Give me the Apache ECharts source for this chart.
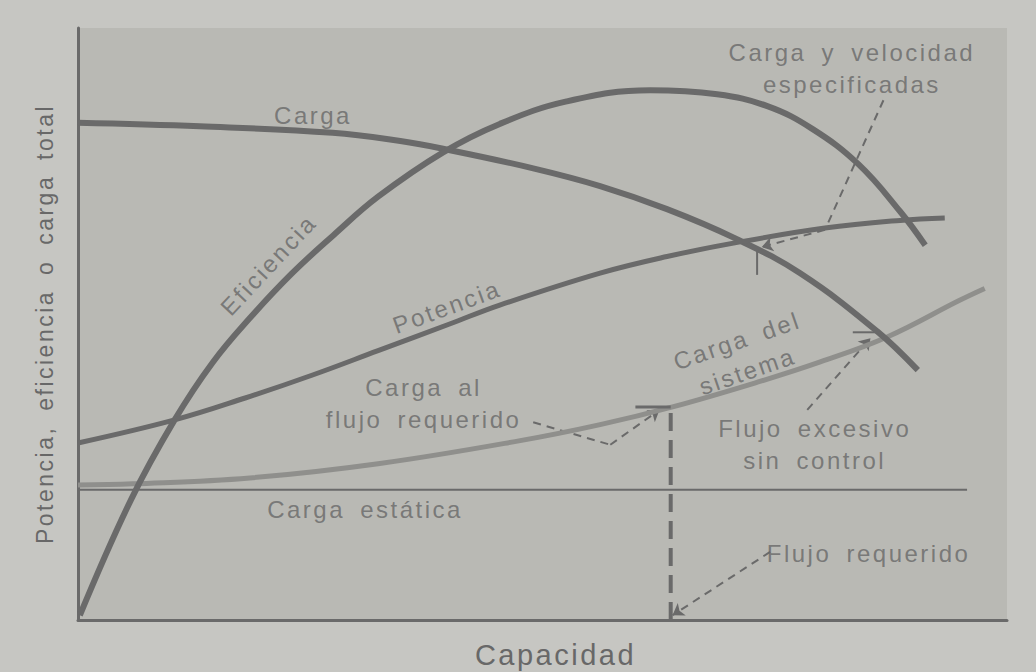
<!DOCTYPE html>
<html>
<head>
<meta charset="utf-8">
<script src="https://cdn.jsdelivr.net/npm/echarts@6/dist/echarts.min.js"></script>
<style>
  html, body { margin: 0; padding: 0; background: #c6c6c2; }
  #chart { width: 1036px; height: 672px; }
  /* the printed figure uses widely tracked lettering */
  #chart text { letter-spacing: 2.5px; word-spacing: 6px; }
</style>
</head>
<body>
<div id="chart"></div>
<script>
// curves (x: capacidad 0-100, y: 0-100)
const carga = [[0, 84.0], [13.1, 83.4], [27.4, 82.3], [34.7, 80.9], [39.3, 79.6], [49.0, 76.3],
  [56.2, 73.3], [63.4, 69.4], [70.7, 64.5], [77.7, 58.6], [86.0, 48.8], [90.4, 42.2]];
const eficiencia = [[0.2, 0.8], [5.7, 20.3], [10.4, 33.8], [14.5, 43.5], [18.5, 51.0], [23.0, 58.5],
  [27.5, 65.0], [32.3, 71.5], [39.3, 79.0], [45.4, 83.8], [52.6, 87.6], [61.6, 89.5], [68.8, 88.8],
  [74.2, 86.8], [79.0, 83.0], [84.0, 77.0], [88.5, 69.0], [91.2, 63.3]];
const potencia = [[0, 29.9], [10.4, 33.8], [18.0, 37.5], [25.1, 41.3], [32.3, 45.5], [40.0, 50.0],
  [45.4, 53.2], [56.2, 58.6], [63.4, 61.4], [70.7, 63.7], [80.4, 66.2], [88.5, 67.5], [93.3, 67.9]];
const sistema = [[0, 22.8], [5.9, 23.0], [18.5, 24.0], [32.3, 26.4], [47.6, 30.3], [56.2, 33.0],
  [64.0, 36.0], [73.4, 40.3], [79.9, 43.6], [87.1, 47.8], [94.9, 54.0], [97.6, 56.0]];
const estatica = [[0, 22.0], [95.7, 22.0]];

// flujo requerido marker
const flujoReq = [[63.8, 0], [63.8, 36.0]];
const flujoCap = [[60.0, 36.0], [63.8, 36.0]];
const puntoTick = [[73.1, 62.8], [73.1, 58.3]];
const excesoTick = [[83.4, 48.6], [86.3, 48.6]];

// dashed pointers (arrow at the last point)
const arrowAlFlujo = [[49.0, 33.4], [57.3, 29.6], [62.6, 35.5]];
const arrowExceso = [[78.5, 35.5], [85.3, 47.6]];
const arrowReq = [[74.5, 11.5], [64.0, 0.8]];
const arrowEspec = [[86.7, 87.8], [80.4, 65.9], [73.6, 63.0]];

// text labels: [x, y, text, rotate]
const labels = [
  [25.3, 85.3, "Carga", 0],
  [20.5, 60.0, "Eficiencia", 47],
  [39.7, 52.9, "Potencia", 20],
  [83.3, 93.1, "Carga y velocidad\nespecificadas", 0],
  [37.2, 36.5, "Carga al\nflujo requerido", 0],
  [30.9, 18.6, "Carga estática", 0],
  [71.5, 44.6, "Carga del\nsistema", 19],
  [79.3, 29.7, "Flujo excesivo\nsin control", 0],
  [85.1, 11.3, "Flujo requerido", 0]
];

const INK = "#6a6a6a";
const TEXT = "#686868";
const FONT = "'Liberation Sans', Arial, sans-serif";

const chart = echarts.init(document.getElementById("chart"), null, { renderer: "svg" });

function curve(data, width, color) {
  return {
    type: "line", data: data, smooth: 0.4, showSymbol: false, silent: true,
    lineStyle: { color: color || INK, width: width }
  };
}

const pointers = [arrowAlFlujo, arrowExceso, arrowReq, arrowEspec];
const bodySegs = [];
const headSegs = [];
pointers.forEach(p => {
  for (let i = 0; i < p.length - 1; i++) {
    const seg = { coords: [p[i], p[i + 1]] };
    (i === p.length - 2 ? headSegs : bodySegs).push(seg);
  }
});

function pointer(segs, arrow) {
  return {
    type: "lines", coordinateSystem: "cartesian2d", silent: true,
    symbol: arrow ? ["none", "arrow"] : ["none", "none"], symbolSize: 11,
    lineStyle: { color: INK, width: 2, type: [8, 6], opacity: 1 },
    data: segs
  };
}

chart.setOption({
  animation: false,
  backgroundColor: "#c6c6c2",
  grid: {
    left: 78, right: 29, top: 28, bottom: 52, outerBoundsMode: "none", containLabel: false,
    show: true, backgroundColor: "#b9b9b4", borderWidth: 0
  },
  xAxis: {
    type: "value", min: 0, max: 100,
    name: "Capacidad", nameLocation: "middle", nameGap: 20,
    nameTextStyle: { color: TEXT, fontSize: 29, fontFamily: FONT, padding: [0, 0, 0, 26] },
    axisLine: { lineStyle: { color: INK, width: 3 } },
    axisTick: { show: false }, axisLabel: { show: false }, splitLine: { show: false }
  },
  yAxis: {
    type: "value", min: 0, max: 100,
    name: "Potencia, eficiencia o carga total", nameLocation: "middle", nameGap: 22, nameRotate: 90,
    nameTextStyle: { color: TEXT, fontSize: 23, fontFamily: FONT },
    axisLine: { show: true, lineStyle: { color: INK, width: 3 } },
    axisTick: { show: false }, axisLabel: { show: false }, splitLine: { show: false }
  },
  series: [
    curve(estatica, 2),
    curve(sistema, 5, "#8f8f8c"),
    curve(carga, 6),
    curve(eficiencia, 6),
    curve(potencia, 5),
    {
      type: "line", data: flujoReq, showSymbol: false, silent: true,
      lineStyle: { color: INK, width: 4, type: [18, 9] }
    },
    curve(flujoCap, 3),
    curve(puntoTick, 2),
    curve(excesoTick, 2),
    pointer(bodySegs, false),
    pointer(headSegs, true),
    {
      type: "scatter", symbolSize: 0, silent: true,
      data: labels.map(l => ({ value: [l[0], l[1]], name: l[2] })),
      label: {
        show: true, position: "inside", color: TEXT, fontSize: 24, fontFamily: FONT,
        lineHeight: 32, align: "center", verticalAlign: "middle",
        formatter: p => p.name
      },
      labelLayout: p => ({ rotate: labels[p.dataIndex][3] })
    }
  ]
});
</script>
</body>
</html>
